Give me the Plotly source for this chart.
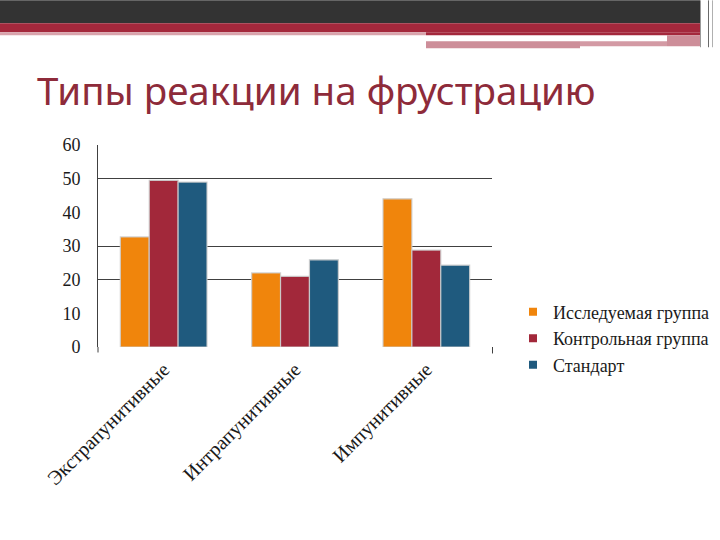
import plotly.graph_objects as go

categories = ["Экстрапунитивные", "Интрапунитивные", "Импунитивные"]
series_names = ["Исследуемая группа", "Контрольная группа", "Стандарт"]
studied = [32.7, 22.0, 44.0]
control = [49.5, 21.0, 28.8]
standard = [49.0, 25.9, 24.3]
y_ticks = [0, 10, 20, 30, 40, 50, 60]
grid_values = [20, 30, 50]
title_text = "Типы реакции на фрустрацию"

colors = ["#F0850C", "#A2283A", "#1F5A7E"]

W, H = 720, 540
L, R, T, B = 98, 228, 145, 192.5
PW, PH = W - L - R, H - T - B


def px_x(px):
    return (px - L) / PW


def px_y(py):
    return (H - B - py) / PH


fig = go.Figure()
for name, vals, col in zip(series_names, [studied, control, standard], colors):
    fig.add_trace(go.Bar(
        x=categories, y=vals, name=name, legendgroup=name, showlegend=False,
        marker=dict(color=col, line=dict(color="rgba(205,205,205,0.9)", width=1.2)),
    ))
for name, col in zip(series_names, colors):
    fig.add_trace(go.Scatter(
        x=[None], y=[None], mode="markers", name=name, legendgroup=name,
        marker=dict(symbol="square", size=8, color=col),
    ))

# grid-only overlay axis
fig.add_trace(go.Scatter(x=categories, y=[None] * 3, yaxis="y2", showlegend=False, hoverinfo="skip"))

shapes = []


def rect(x0, y0, x1, y1, color):
    shapes.append(dict(type="rect", xref="paper", yref="paper",
                       x0=px_x(x0), x1=px_x(x1), y0=px_y(y1), y1=px_y(y0),
                       fillcolor=color, line=dict(width=0), layer="above"))


def vline(x, y0, y1, color, width=1):
    shapes.append(dict(type="line", xref="paper", yref="paper",
                       x0=px_x(x), x1=px_x(x), y0=px_y(y1), y1=px_y(y0),
                       line=dict(color=color, width=width), layer="above"))


# header bands
rect(0, 0, 700, 23, "#333333")
rect(0, 23, 700, 32, "#A4283C")
rect(0, 32, 426, 35, "#D9A3AC")
rect(426, 32, 700, 35, "#A4283C")
rect(426, 41, 580, 48, "#CD8E99")
rect(580, 41, 667, 46, "#D39AA4")
rect(667, 35, 700, 46, "#CD8E99")
vline(700.5, 0, 47, "#9a9a9a", 1)
vline(708.5, 0, 47, "#6a6a6a", 1)
vline(712.5, 0, 47, "#b0b0b0", 1)
# axis extensions / end tick
vline(98, 347.5, 353, "#404040", 1)
vline(492.5, 347.5, 354, "#404040", 1)

serif = "Liberation Serif, Times New Roman, serif"

fig.update_layout(
    width=W, height=H,
    margin=dict(l=L, r=R, t=T, b=B, autoexpand=False),
    paper_bgcolor="white", plot_bgcolor="white",
    barmode="group", bargap=0.34, bargroupgap=0,
    title=dict(text=title_text, xref="container", yref="container",
               x=37 / W, xanchor="left", y=1 - 92 / H, yanchor="middle",
               font=dict(family="Noto Sans, sans-serif", size=38.5, color="#8E2B3A")),
    xaxis=dict(showline=False, showgrid=False, ticks="", tickangle=-45,
               ticklabelstandoff=6,
               tickfont=dict(family=serif, size=20, color="#1a1a1a")),
    yaxis=dict(range=[0, 60], tickvals=y_ticks, showgrid=False, zeroline=False,
               showline=True, linecolor="#404040", linewidth=1, ticks="",
               ticklabelstandoff=13,
               tickfont=dict(family=serif, size=18, color="#1a1a1a")),
    yaxis2=dict(range=[0, 60], overlaying="y", tickvals=grid_values, showgrid=True,
                gridcolor="#404040", gridwidth=1, showticklabels=False,
                zeroline=False, showline=False, ticks="", layer="below traces"),
    legend=dict(x=px_x(513), xanchor="left", y=px_y(294), yanchor="top",
                font=dict(family=serif, size=18, color="#1a1a1a"),
                bgcolor="rgba(0,0,0,0)", traceorder="normal", tracegroupgap=0),
    shapes=shapes,
)

fig.write_html("out.html", config={"displayModeBar": False},
               post_script="document.body.style.margin='0';")
